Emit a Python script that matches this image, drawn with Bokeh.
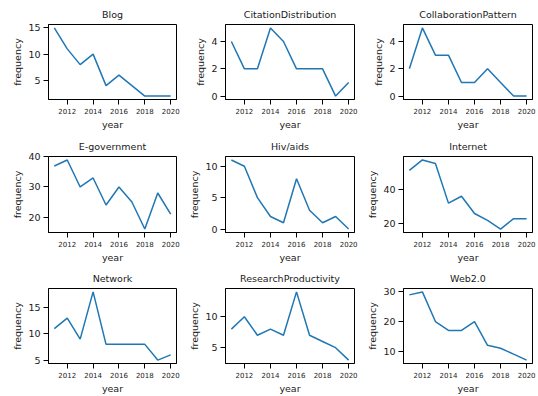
from bokeh.plotting import figure
from bokeh.layouts import column, row
from bokeh.models import Range1d, FixedTicker
from bokeh.embed import file_html
from bokeh.resources import INLINE

years = [2011, 2012, 2013, 2014, 2015, 2016, 2017, 2018, 2019, 2020]

blog = [15, 11, 8, 10, 4, 6, 4, 2, 2, 2]
citation_distribution = [4, 2, 2, 5, 4, 2, 2, 2, 0, 1]
collaboration_pattern = [2, 5, 3, 3, 1, 1, 2, 1, 0, 0]
e_government = [37, 39, 30, 33, 24, 30, 25, 16, 28, 21]
hiv_aids = [11, 10, 5, 2, 1, 8, 3, 1, 2, 0]
internet = [51, 57, 55, 32, 36, 26, 22, 17, 23, 23]
network = [11, 13, 9, 18, 8, 8, 8, 8, 5, 6]
research_productivity = [8, 10, 7, 8, 7, 14, 7, 6, 5, 3]
web2_0 = [29, 30, 20, 17, 17, 20, 12, 11, 9, 7]

titles = ["Blog", "CitationDistribution", "CollaborationPattern",
          "E-government", "Hiv/aids", "Internet",
          "Network", "ResearchProductivity", "Web2.0"]
series = [blog, citation_distribution, collaboration_pattern,
          e_government, hiv_aids, internet,
          network, research_productivity, web2_0]
y_tick_values = [[5, 10, 15], [0, 2, 4], [0, 2, 4],
                 [20, 30, 40], [0, 5, 10], [20, 40],
                 [5, 10, 15], [5, 10], [10, 20, 30]]
x_tick_values = [2012, 2014, 2016, 2018, 2020]

FONT = "DejaVu Sans"
LINE_COLOR = "#1f77b4"
TEXT_COLOR = "#1a1a1a"

# layout: (width, left, right) per column; (height, top, bottom) per row
col_geom = [(186, 48, 10), (177, 39, 9), (175, 40, 6)]
row_geom = [(134, 24, 35), (132, 22, 34), (130, 22, 31)]


def padded(vals, frac=0.05):
    lo, hi = min(vals), max(vals)
    pad = (hi - lo) * frac
    return lo - pad, hi + pad


def make_panel(title, vals, yticks, cg, rg):
    w, bl, br = cg
    h, bt, bb = rg
    x0, x1 = padded(years)
    y0, y1 = padded(vals)
    p = figure(width=w, height=h, output_backend="svg", toolbar_location=None,
               x_range=Range1d(x0, x1), y_range=Range1d(y0, y1),
               min_border_left=bl, min_border_right=br,
               min_border_top=bt, min_border_bottom=bb)
    p.line(years, vals, line_color=LINE_COLOR, line_width=1.5)
    p.xgrid.visible = False
    p.ygrid.visible = False
    p.outline_line_color = "black"
    p.outline_line_width = 1
    p.outline_line_alpha = 1
    p.background_fill_color = "white"
    p.border_fill_color = "white"

    p.title.text = title
    p.title.align = "center"
    p.title.text_font = FONT
    p.title.text_font_size = "9.5px"
    p.title.text_font_style = "normal"
    p.title.text_color = TEXT_COLOR
    p.title.standoff = 9

    for ax in (p.xaxis[0], p.yaxis[0]):
        ax.axis_line_color = "black"
        ax.axis_line_width = 1
        ax.major_tick_line_color = "black"
        ax.major_tick_in = 0
        ax.major_tick_out = 5
        ax.minor_tick_line_color = None
        ax.major_label_text_font = FONT
        ax.major_label_text_color = TEXT_COLOR
        ax.axis_label_text_font = FONT
        ax.axis_label_text_font_style = "normal"
        ax.axis_label_text_font_size = "9.5px"
        ax.axis_label_text_color = TEXT_COLOR
        ax.major_label_standoff = 3
        ax.axis_label_standoff = 2

    p.xaxis.ticker = FixedTicker(ticks=x_tick_values)
    p.xaxis.major_label_text_font_size = "7px"
    p.xaxis.axis_label = "year"
    p.yaxis.ticker = FixedTicker(ticks=yticks)
    p.yaxis.major_label_text_font_size = "9.5px"
    p.yaxis.axis_label = "frequency"
    return p


rows = []
for r in range(3):
    figs = []
    for c in range(3):
        i = r * 3 + c
        figs.append(make_panel(titles[i], series[i], y_tick_values[i],
                               col_geom[c], row_geom[r]))
    rows.append(row(*figs))

layout = column(*rows)
open("out.html", "w").write(file_html(layout, INLINE))
